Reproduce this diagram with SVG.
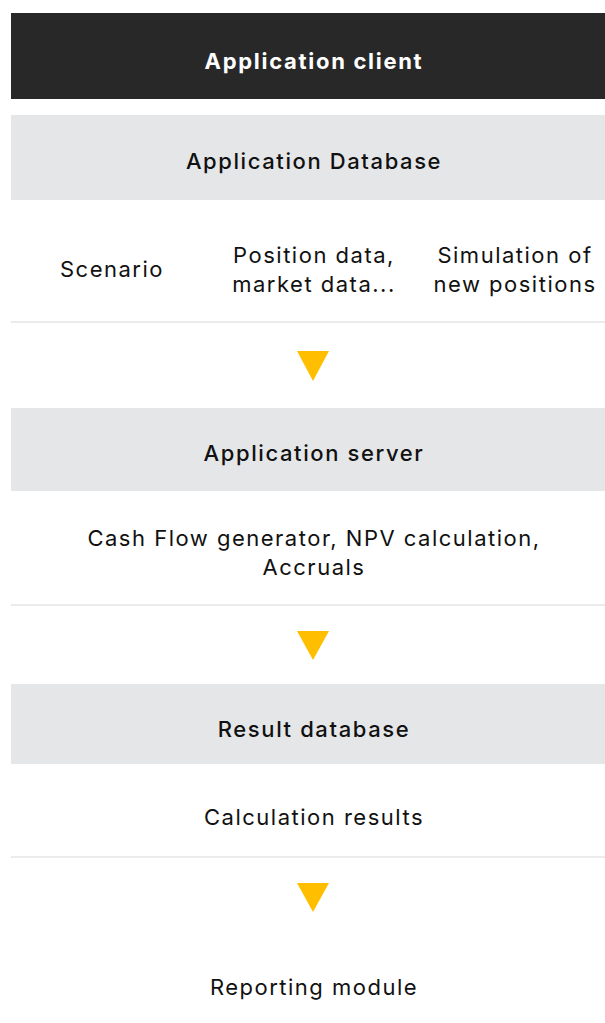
<svg xmlns="http://www.w3.org/2000/svg" width="605" height="1023" viewBox="0 0 605 1023">
  <style>
    .band-dark { fill: #282828; }
    .band-grey { fill: #e5e6e8; }
    .rule { stroke: #ebebeb; stroke-width: 2; }
    .flow { fill: #ffbf00; }
    text { font-family: "Inter", "Noto Sans", "DejaVu Sans", sans-serif; font-size: 22px; letter-spacing: 1.5px; fill: #111111; text-anchor: middle; }
    .title-light { fill: #ffffff; font-weight: 700; letter-spacing: 1.7px; }
    .title { font-weight: 500; letter-spacing: 1.6px; }
  </style>
  <rect width="605" height="1023" fill="#ffffff"/>

  <g id="application-client">
    <rect class="band-dark" x="11" y="13" width="594" height="86"/>
    <text class="title-light" x="314" y="69">Application client</text>
  </g>

  <g id="application-database">
    <rect class="band-grey" x="11" y="115" width="594" height="85"/>
    <text class="title" x="314" y="169">Application Database</text>
  </g>

  <g id="database-contents">
    <text x="112" y="277">Scenario</text>
    <text x="314" y="263">Position data,</text>
    <text x="314" y="292">market data...</text>
    <text x="515" y="263">Simulation of</text>
    <text x="515" y="292">new positions</text>
  </g>

  <g id="application-server">
    <rect class="band-grey" x="11" y="408" width="594" height="83"/>
    <text class="title" x="314" y="461">Application server</text>
  </g>

  <g id="server-contents">
    <text x="314" y="546">Cash Flow generator, NPV calculation,</text>
    <text x="314" y="575">Accruals</text>
  </g>

  <g id="result-database">
    <rect class="band-grey" x="11" y="684" width="594" height="80"/>
    <text class="title" x="314" y="737">Result database</text>
  </g>

  <g id="result-contents">
    <text x="314" y="825">Calculation results</text>
  </g>

  <g id="reporting-module">
    <text x="314" y="995">Reporting module</text>
  </g>

  <g id="connectors">
    <line class="rule" x1="11" y1="322" x2="605" y2="322"/>
    <line class="rule" x1="11" y1="605" x2="605" y2="605"/>
    <line class="rule" x1="11" y1="857" x2="605" y2="857"/>
    <polygon class="flow" points="297,351 329,351 313,381"/>
    <polygon class="flow" points="297,631 329,631 313,660"/>
    <polygon class="flow" points="297,883 329,883 313,912"/>
  </g>
</svg>
